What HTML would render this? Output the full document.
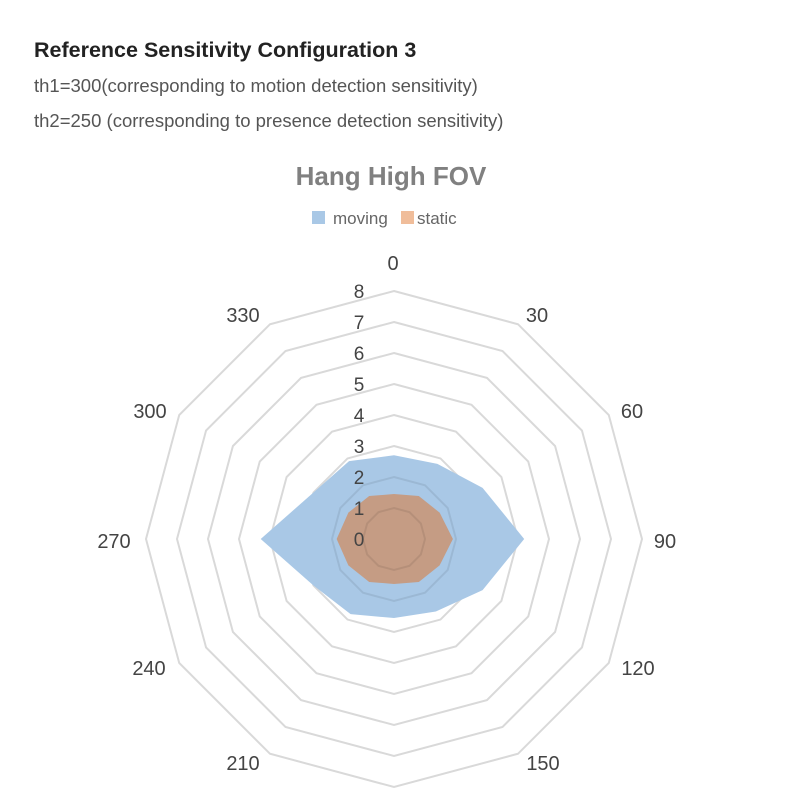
<!DOCTYPE html>
<html><head><meta charset="utf-8"><style>
body{margin:0;background:#fff;width:800px;height:800px;overflow:hidden;font-family:"Liberation Sans",sans-serif}
.t{position:absolute;left:34px;top:38px;font-size:21.5px;font-weight:bold;color:#222}
.s{position:absolute;left:34px;font-size:18.5px;color:#555}
</style></head><body>
<div class="t">Reference Sensitivity Configuration 3</div>
<div class="s" style="top:75px">th1=300(corresponding to motion detection sensitivity)</div>
<div class="s" style="top:110px">th2=250 (corresponding to presence detection sensitivity)</div>
<svg width="800" height="800" style="position:absolute;left:0;top:0" font-family="Liberation Sans, sans-serif">
<text x="391" y="185" text-anchor="middle" font-size="26" font-weight="bold" fill="#808080">Hang High FOV</text>
<rect x="312" y="211" width="13" height="13" fill="#a9c8e6"/>
<text x="333" y="224" font-size="17" fill="#666">moving</text>
<rect x="401" y="211" width="13" height="13" fill="#f0bd9a"/>
<text x="417" y="224" font-size="17" fill="#666">static</text>
<g id="g"></g>
</svg>
<script>
const cx=394,cy=539,u=31,ns="http://www.w3.org/2000/svg",g=document.getElementById('g');
function pt(a,r){const t=a*Math.PI/180;return [cx+r*Math.sin(t),cy-r*Math.cos(t)];}
function poly(vals,attrs){const p=document.createElementNS(ns,'polygon');p.setAttribute('points',vals.map((v,i)=>pt(i*30,v*u).join(',')).join(' '));for(const k in attrs)p.setAttribute(k,attrs[k]);g.appendChild(p);}
for(let k=1;k<=8;k++)poly(Array(12).fill(k),{fill:'none',stroke:'#d9d9d9','stroke-width':2});
poly([2.7,2.8,3.3,4.2,3.3,2.7,2.55,2.8,3.0,4.3,3.0,2.9],{fill:'#a9c8e6'});
poly([1.45,1.6,1.7,1.9,1.7,1.6,1.45,1.6,1.7,1.85,1.7,1.6],{fill:'#c59c84'});
for(let k=1;k<=2;k++)poly(Array(12).fill(k),{fill:'none',stroke:'#000','stroke-opacity':0.08,'stroke-width':2});
function txt(x,y,s,sz){const t=document.createElementNS(ns,'text');t.setAttribute('x',x);t.setAttribute('y',y);t.setAttribute('font-size',sz);t.setAttribute('fill','#444');t.setAttribute('text-anchor','middle');t.textContent=s;g.appendChild(t);}
for(let k=0;k<=8;k++)txt(359,cy-k*u+7,k,19);
const L=[[393,270],[537,322],[632,418],[665,548],[638,675],[543,770],[243,770],[149,675],[114,548],[150,418],[243,322]];
const lab=[0,30,60,90,120,150,210,240,270,300,330];
L.forEach((p,i)=>txt(p[0],p[1],lab[i],20));
</script>
</body></html>
